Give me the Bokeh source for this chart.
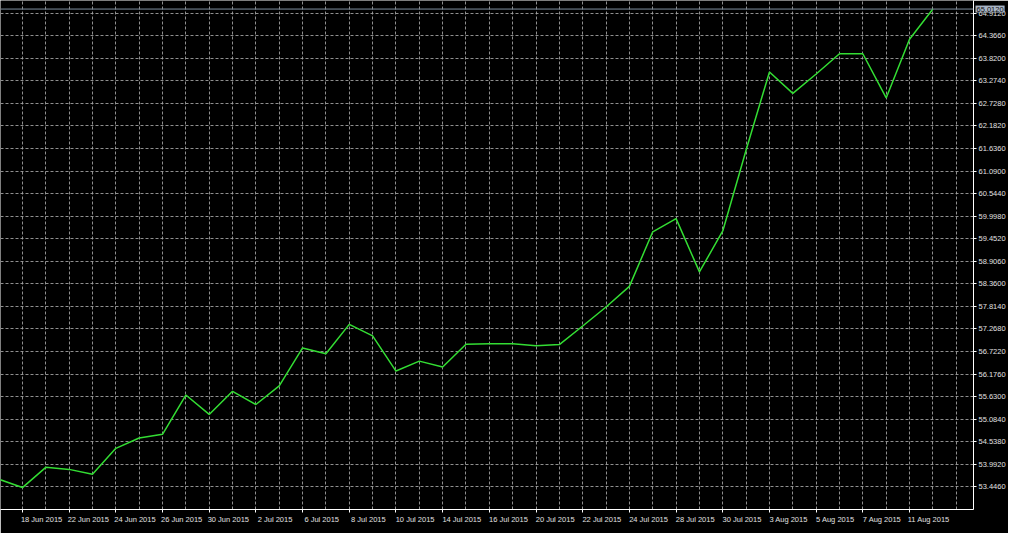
from bokeh.plotting import figure
from bokeh.models import Range1d, FixedTicker, NumeralTickFormatter, Span, Label
from bokeh.embed import file_html
from bokeh.resources import INLINE

# ---- data (daily closes, one bar per trading day) ----
dates = ["17 Jun 2015", "18 Jun 2015", "19 Jun 2015", "22 Jun 2015", "23 Jun 2015",
         "24 Jun 2015", "25 Jun 2015", "26 Jun 2015", "29 Jun 2015", "30 Jun 2015",
         "1 Jul 2015", "2 Jul 2015", "3 Jul 2015", "6 Jul 2015", "7 Jul 2015",
         "8 Jul 2015", "9 Jul 2015", "10 Jul 2015", "13 Jul 2015", "14 Jul 2015",
         "15 Jul 2015", "16 Jul 2015", "17 Jul 2015", "20 Jul 2015", "21 Jul 2015",
         "22 Jul 2015", "23 Jul 2015", "24 Jul 2015", "27 Jul 2015", "28 Jul 2015",
         "29 Jul 2015", "30 Jul 2015", "31 Jul 2015", "3 Aug 2015", "4 Aug 2015",
         "5 Aug 2015", "6 Aug 2015", "7 Aug 2015", "10 Aug 2015", "11 Aug 2015",
         "12 Aug 2015"]
bar_index = list(range(-1, 40))
close = [53.63, 53.43, 53.92, 53.87, 53.75, 54.38, 54.63, 54.72, 55.67, 55.20,
         55.76, 55.44, 55.89, 56.81, 56.67, 57.38, 57.10, 56.25, 56.49, 56.35,
         56.90, 56.91, 56.91, 56.86, 56.89, 57.34, 57.80, 58.30, 59.62, 59.94,
         58.65, 59.64, 61.60, 63.49, 62.97, 63.44, 63.93, 63.93, 62.86, 64.28,
         65.012]
last_price = 65.012
y_ticks = [53.446, 53.992, 54.538, 55.084, 55.630, 56.176, 56.722, 57.268, 57.814,
           58.360, 58.906, 59.452, 59.998, 60.544, 61.090, 61.636, 62.182, 62.728,
           63.274, 63.820, 64.366, 64.912]
x_label_index = list(range(0, 40, 2))

FONT = "Liberation Sans"
TXT = "#e0e0e0"
LABEL_SHIFT = 0.82  # shift so centred date labels start at their tick

X0, X1 = -0.94, 40.74
p = figure(width=1008, height=533, output_backend="svg", toolbar_location=None,
           x_range=Range1d(X0, X1), y_range=Range1d(52.899, 65.219),
           y_axis_location="right", background_fill_color="black",
           border_fill_color="black", min_border_left=0, min_border_top=0,
           min_border_right=0, min_border_bottom=0, outline_line_color=None)

p.line(bar_index, close, line_color="#33dd33", line_width=1.5)

# grid
p.xgrid.ticker = FixedTicker(ticks=list(range(-1, 41)))
p.ygrid.ticker = FixedTicker(ticks=y_ticks)
for g in (p.xgrid, p.ygrid):
    g.grid_line_color = "#a8a8a8"
    g.grid_line_dash = "3 2"
    g.grid_line_width = 1
    g.grid_line_alpha = 0.85

# axes
xa = p.xaxis[0]
lab_pos = [bar_index[i + 1] + LABEL_SHIFT for i in x_label_index]
xa.ticker = FixedTicker(ticks=lab_pos,
                        minor_ticks=[bar_index[i + 1] for i in x_label_index])
xa.major_label_overrides = {pos: dates[i + 1] for pos, i in zip(lab_pos, x_label_index)}
xa.major_tick_line_color = None
xa.minor_tick_line_color = "white"
xa.minor_tick_in = 0
xa.minor_tick_out = 3
ya = p.yaxis[0]
ya.ticker = FixedTicker(ticks=y_ticks)
ya.formatter = NumeralTickFormatter(format="0.0000")
ya.major_tick_line_color = "white"
ya.minor_tick_line_color = None
for ax in (xa, ya):
    ax.axis_line_color = "white"
    ax.axis_line_width = 1
    ax.major_tick_in = 0
    ax.major_tick_out = 3
    ax.major_label_text_font = FONT
    ax.major_label_text_font_size = "7.5px"
    ax.major_label_text_color = TXT
    ax.major_label_standoff = 2

# last price line and marker (side-panel label so it can sit over the price scale)
p.add_layout(Span(location=last_price, dimension="width", line_color="#8090a0", line_width=1))
p.add_layout(Label(x=X1, y=last_price, x_offset=2, text=f"{last_price:.4f}",
                   text_font=FONT, text_font_size="7.5px", text_color="#101010",
                   text_baseline="middle", background_fill_color="#a8b4c4",
                   padding=1), "below")

open("out.html", "w").write(file_html(p, INLINE))
